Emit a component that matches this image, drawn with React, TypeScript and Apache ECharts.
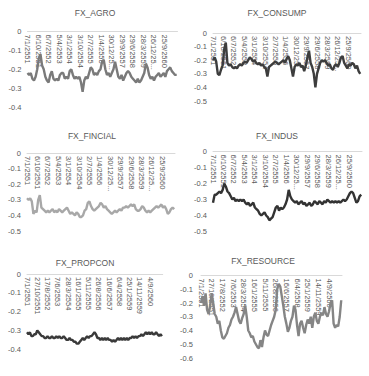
import React, { useEffect, useRef } from "react";
import * as echarts from "echarts";

// Weekly series starting 7/1/2551 (7 Jan 2008), sampled every 6 weeks
const STEP_WEEKS = 6;
const AXIS_MAX_WEEK = 555;
const LAST_LABEL_WEEK = 510;

const titles = ["FX_AGRO", "FX_CONSUMP", "FX_FINCIAL", "FX_INDUS", "FX_PROPCON", "FX_RESOURCE"];

const agro = [
  -0.22, -0.23, -0.22, -0.25, -0.26, -0.24, -0.2, -0.14, -0.12, -0.18,
  -0.2, -0.24, -0.26, -0.27, -0.23, -0.21, -0.25, -0.26, -0.25, -0.26,
  -0.23, -0.22, -0.22, -0.25, -0.24, -0.25, -0.21, -0.2, -0.23, -0.25,
  -0.24, -0.25, -0.24, -0.27, -0.32, -0.26, -0.24, -0.25, -0.22, -0.19,
  -0.2, -0.23, -0.22, -0.23, -0.21, -0.2, -0.16, -0.15, -0.2, -0.23,
  -0.22, -0.24, -0.22, -0.2, -0.16, -0.2, -0.24, -0.25, -0.23, -0.26,
  -0.24, -0.22, -0.21, -0.22, -0.24, -0.25, -0.26, -0.27, -0.25, -0.27,
  -0.26, -0.24, -0.22, -0.17, -0.19, -0.23, -0.25, -0.24, -0.26, -0.24,
  -0.23, -0.22, -0.24, -0.23, -0.22, -0.24, -0.21, -0.2, -0.19, -0.21,
  -0.22, -0.23, -0.23,
];

const consump = [
  -0.2, -0.18, -0.21, -0.3, -0.31, -0.27, -0.24, -0.12, -0.07, -0.22,
  -0.24, -0.23, -0.25, -0.26, -0.25, -0.26, -0.24, -0.23, -0.24, -0.22,
  -0.21, -0.22, -0.2, -0.18, -0.19, -0.21, -0.2, -0.22, -0.23, -0.22,
  -0.24, -0.23, -0.25, -0.26, -0.32, -0.25, -0.24, -0.23, -0.22, -0.21,
  -0.22, -0.23, -0.22, -0.21, -0.2, -0.22, -0.19, -0.17, -0.2, -0.26,
  -0.32, -0.25, -0.23, -0.24, -0.22, -0.25, -0.24, -0.28, -0.24, -0.18,
  -0.13, -0.22, -0.25, -0.3, -0.4, -0.3, -0.26, -0.22, -0.2, -0.21,
  -0.2, -0.22, -0.24, -0.23, -0.26, -0.27, -0.24, -0.23, -0.25, -0.22,
  -0.18, -0.17, -0.22, -0.24, -0.26, -0.23, -0.24, -0.22, -0.23, -0.26,
  -0.24, -0.28, -0.3,
];

const fincial = [
  -0.29, -0.3, -0.29, -0.31, -0.39, -0.37, -0.38, -0.3, -0.27, -0.35,
  -0.36, -0.37, -0.38, -0.37, -0.38, -0.37, -0.36, -0.38, -0.37, -0.38,
  -0.36, -0.37, -0.38, -0.37, -0.36, -0.35, -0.37, -0.39, -0.38, -0.39,
  -0.4, -0.38, -0.39, -0.41, -0.41, -0.4, -0.37, -0.36, -0.32, -0.31,
  -0.34, -0.36, -0.37, -0.36, -0.35, -0.34, -0.32, -0.33, -0.35, -0.34,
  -0.36, -0.37, -0.38, -0.39, -0.38, -0.37, -0.38, -0.37, -0.36, -0.37,
  -0.35, -0.35, -0.34, -0.35, -0.34, -0.33, -0.34, -0.33, -0.36, -0.37,
  -0.37, -0.36, -0.34, -0.35, -0.37, -0.38, -0.37, -0.38, -0.37, -0.36,
  -0.35, -0.34, -0.35, -0.34, -0.33, -0.35, -0.34, -0.36, -0.39, -0.38,
  -0.36, -0.35, -0.36,
];

const indus = [
  -0.32, -0.27, -0.27, -0.26, -0.25, -0.26, -0.24, -0.2, -0.22, -0.25,
  -0.26, -0.28, -0.3, -0.29, -0.31, -0.3, -0.31, -0.3, -0.31, -0.3,
  -0.32, -0.33, -0.32, -0.34, -0.33, -0.32, -0.35, -0.36, -0.37, -0.39,
  -0.4, -0.39, -0.38, -0.4, -0.41, -0.43, -0.42, -0.41, -0.38, -0.35,
  -0.34, -0.37, -0.35, -0.36, -0.35, -0.33, -0.3, -0.24, -0.28, -0.3,
  -0.31, -0.32, -0.31, -0.33, -0.32, -0.31, -0.33, -0.32, -0.34, -0.33,
  -0.32, -0.34, -0.33, -0.31, -0.32, -0.33, -0.31, -0.32, -0.33, -0.31,
  -0.32, -0.3, -0.31, -0.32, -0.31, -0.32, -0.31, -0.32, -0.31, -0.32,
  -0.31, -0.3, -0.31, -0.3, -0.28, -0.26, -0.25, -0.26, -0.29, -0.32,
  -0.31, -0.28, -0.27,
];

const propcon = [
  -0.31, -0.32, -0.31, -0.33, -0.33, -0.32, -0.32, -0.3, -0.31, -0.32,
  -0.33, -0.33, -0.34, -0.34, -0.33, -0.34, -0.34, -0.33, -0.34, -0.34,
  -0.33, -0.34, -0.33, -0.34, -0.34, -0.33, -0.34, -0.35, -0.35, -0.34,
  -0.35, -0.35, -0.36, -0.36, -0.37, -0.37, -0.36, -0.35, -0.34, -0.35,
  -0.34, -0.33, -0.34, -0.33, -0.33, -0.32, -0.31, -0.32, -0.34, -0.34,
  -0.35, -0.34, -0.35, -0.34, -0.35, -0.34, -0.35, -0.35, -0.36, -0.35,
  -0.36, -0.35, -0.34, -0.35, -0.34, -0.35, -0.34, -0.35, -0.34, -0.35,
  -0.34, -0.34, -0.33, -0.34, -0.33, -0.34, -0.33, -0.33, -0.32, -0.33,
  -0.32, -0.31, -0.32, -0.31, -0.32, -0.31, -0.32, -0.32, -0.31, -0.32,
  -0.33, -0.32, -0.33,
];

const resource = [
  -0.2, -0.15, -0.22, -0.13, -0.25, -0.28, -0.22, -0.13, -0.2, -0.28,
  -0.3, -0.35, -0.33, -0.4, -0.45, -0.46, -0.44, -0.42, -0.38, -0.36,
  -0.32, -0.3, -0.27, -0.23, -0.28, -0.33, -0.35, -0.31, -0.28, -0.22,
  -0.3, -0.4, -0.42, -0.45, -0.44, -0.48, -0.5, -0.52, -0.53, -0.47,
  -0.52, -0.45, -0.4, -0.43, -0.44, -0.4, -0.36, -0.33, -0.3, -0.25,
  -0.1, -0.06, -0.08, -0.15, -0.22, -0.3, -0.35, -0.41, -0.38, -0.33,
  -0.3, -0.22, -0.25, -0.36, -0.44, -0.35, -0.33, -0.38, -0.42, -0.36,
  -0.32, -0.35, -0.3, -0.38, -0.3, -0.27, -0.33, -0.35, -0.3, -0.27,
  -0.29, -0.23, -0.28, -0.3, -0.26, -0.2, -0.18, -0.35, -0.38, -0.36,
  -0.37, -0.3, -0.18,
];

const seriesData = [agro, consump, fincial, indus, propcon, resource];
const yMins = [-0.4, -0.5, -0.5, -0.5, -0.4, -0.6];
const labelEvery = [39, 39, 39, 39, 42, 42];
const truncateLabels = [true, true, true, true, false, false];

// presentation
const lineColors = ["#7a7a7a", "#3d3d3d", "#a8a8a8", "#333333", "#3a3a3a", "#858585"];
const grids = [
  { left: 27.5, top: 31.5, width: 150, height: 75.5 },
  { left: 213, top: 33, width: 148, height: 68 },
  { left: 27, top: 153, width: 148, height: 78 },
  { left: 213, top: 151.5, width: 149, height: 80 },
  { left: 27, top: 274, width: 135.7, height: 75.3 },
  { left: 201, top: 275.5, width: 141, height: 82.5 },
];
const titlePos = [
  [95, 13],
  [277, 13],
  [92, 136],
  [277, 136],
  [85, 263],
  [263, 261],
];
const yLabelMargin = [6, 6, 6, 6, 6, 8];

const FONT = '"Liberation Sans", Arial, sans-serif';

function weekLabel(w: number): string {
  const d = new Date(2008, 0, 7 + 7 * w);
  return `${d.getDate()}/${d.getMonth() + 1}/${d.getFullYear() + 543}`;
}

export default function App() {
  const ref = useRef<HTMLDivElement>(null);
  useEffect(() => {
    if (!ref.current) return;
    const chart = echarts.init(ref.current, undefined, { renderer: "svg" });
    const option: any = {
      animation: false,
      backgroundColor: "#ffffff",
      grid: grids.map((g) => ({ ...g, containLabel: false })),
      xAxis: seriesData.map((_, i) => ({
        type: "value",
        gridIndex: i,
        position: "top",
        min: 0,
        max: AXIS_MAX_WEEK,
        interval: labelEvery[i],
        axisLine: { show: true, onZero: false, lineStyle: { color: "#d9d9d9", width: 1 } },
        axisTick: { show: false },
        splitLine: { show: false },
        axisLabel: {
          inside: true,
          rotate: 90,
          fontSize: 7.5,
          fontFamily: FONT,
          color: "#595959",
          margin: 3,
          padding: [7, 0, 0, 0],
          showMaxLabel: false,
          formatter: (v: number) => {
            if (v > LAST_LABEL_WEEK) return "";
            const s = weekLabel(v);
            return truncateLabels[i] && s.length > 9 ? s.slice(0, 8) + "..." : s;
          },
        },
      })),
      yAxis: seriesData.map((_, i) => ({
        type: "value",
        gridIndex: i,
        min: yMins[i],
        max: 0,
        interval: 0.1,
        axisLine: { show: false },
        axisTick: { show: false },
        splitLine: { show: false },
        axisLabel: { fontSize: 7.5, fontFamily: FONT, color: "#595959", margin: yLabelMargin[i] },
      })),
      series: seriesData.map((vals, i) => ({
        type: "line",
        xAxisIndex: i,
        yAxisIndex: i,
        data: vals.map((v, j) => [j * STEP_WEEKS, v]),
        showSymbol: false,
        symbol: "none",
        silent: true,
        lineStyle: { color: lineColors[i], width: 2.4 },
      })),
      graphic: titles.map((t, i) => ({
        type: "text",
        x: titlePos[i][0],
        y: titlePos[i][1],
        silent: true,
        style: {
          text: t,
          fill: "#595959",
          fontSize: 8.5,
          fontFamily: FONT,
          align: "center",
          verticalAlign: "middle",
          textAlign: "center",
          textVerticalAlign: "middle",
        },
      })),
    };
    chart.setOption(option);
    return () => chart.dispose();
  }, []);
  return (
    <div
      ref={ref}
      style={{ position: "absolute", left: 0, top: 0, width: 369, height: 376 }}
    />
  );
}
